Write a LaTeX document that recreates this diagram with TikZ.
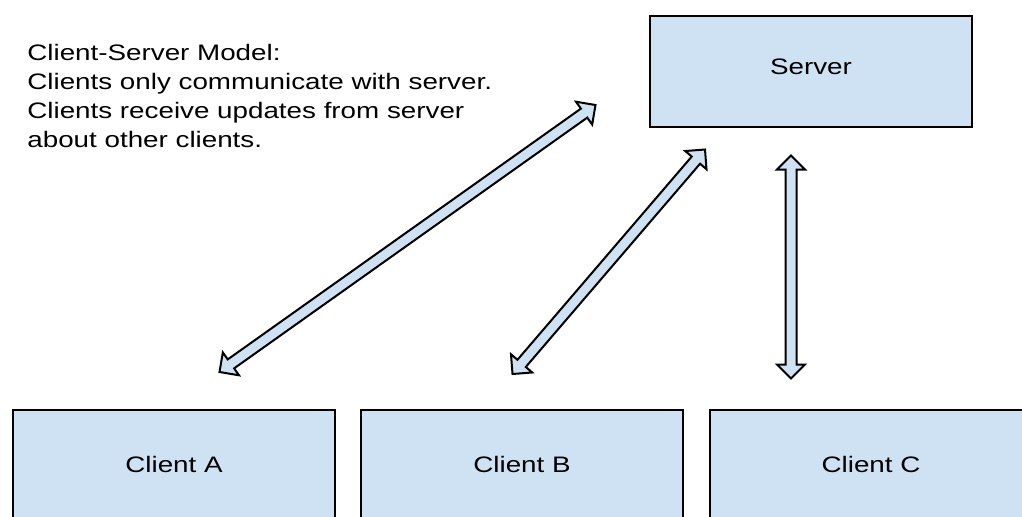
\documentclass[tikz,border=0pt]{standalone}
\usepackage{fontspec}
\setmainfont{Liberation Sans}[FakeStretch=1.24]
\usetikzlibrary{shapes.arrows,calc}

\definecolor{boxblue}{HTML}{CFE2F3}

\tikzset{
  txt/.style={font=\fontsize{11.2}{14.5}\selectfont, text=black},
  box/.style={txt, draw=black, line width=1pt, fill=boxblue,
    minimum width=161pt, minimum height=55.5pt, inner sep=0pt,
    text height=8pt, text depth=5.5pt, anchor=north west},
  link/.style={double arrow, draw=black, line width=1pt, fill=boxblue,
    inner sep=2.25pt, double arrow head extend=4.25pt, minimum width=0pt},
}

% two-headed block arrow between two named points
\newcommand{\linkarrow}[3]{%
  \path let \p1=($(#3)-(#2)$), \n1={veclen(\x1,\y1)}, \n2={atan2(\y1,\x1)} in
    node[link, minimum height={\n1}, rotate={\n2}] (#1) at ($(#2)!0.5!(#3)$) {};}

\begin{document}
\begin{tikzpicture}[x=0.5pt, y=-0.5pt]
  \useasboundingbox (0,0) rectangle (1022,516);
  \clip (0,0) rectangle (1022,516);

  % Model description
  \node[txt, anchor=north west, inner sep=0pt, align=left] (note) at (27,43.5)
    {Client-Server Model:\\
     Clients only communicate with server.\\
     Clients receive updates from server\\
     about other clients.};

  % Server and clients
  \node[box] (server) at (649,15) {Server};
  \node[box, minimum height=59.5pt] (clientA) at (12,409) {Client A};
  \node[box, minimum height=59.5pt] (clientB) at (360,409) {Client B};
  \node[box, minimum height=59.5pt] (clientC) at (709,409) {Client C};

  % Arrow ends
  \coordinate (a1) at (219.5,372);
  \coordinate (a2) at (595.5,105);
  \coordinate (b1) at (512.5,374);
  \coordinate (b2) at (705,149.5);
  \coordinate (c1) at (791,155.5);
  \coordinate (c2) at (791,378.5);

  % Links to the server
  \linkarrow{linkA}{a1}{a2}
  \linkarrow{linkB}{b1}{b2}
  \linkarrow{linkC}{c2}{c1}
\end{tikzpicture}
\end{document}
